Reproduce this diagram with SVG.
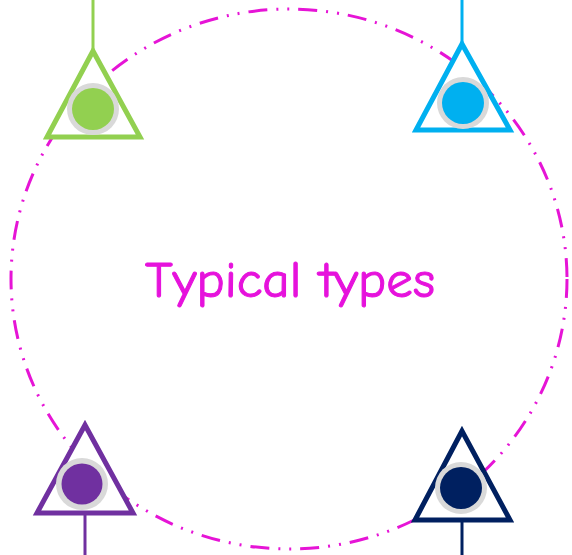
<svg xmlns="http://www.w3.org/2000/svg" width="572" height="555" viewBox="0 0 572 555">
<style>
.ring{fill:none;stroke:#E614D6;stroke-width:3;stroke-dasharray:19 9 2 9 2 9}
.tri{fill:#FFFFFF;stroke-width:5;stroke-linejoin:miter}
.halo{fill:#D9D9D9}
.lnk{stroke-width:3;fill:none}
.title{font-family:"Comic Sans MS","Comic Neue","Open Sans","Liberation Sans",sans-serif;font-size:50px;fill:#E612DC;stroke:#E612DC;stroke-width:1}
</style>
<rect width="572" height="555" fill="#FFFFFF"/>
<g id="ring">
<ellipse class="ring" cx="289" cy="279" rx="278" ry="270"/>
</g>
<g id="connectors">
<line class="lnk" x1="93" y1="0" x2="93" y2="50" stroke="#92D050"/>
<line class="lnk" x1="462" y1="0" x2="462" y2="42" stroke="#00B0F0"/>
<line class="lnk" x1="85" y1="514" x2="85" y2="555" stroke="#7030A0"/>
<line class="lnk" x1="462" y1="520" x2="462" y2="555" stroke="#002060"/>
</g>
<g id="green">
<path class="tri" stroke="#92D050" d="M93,51 L47,137 L140,137 Z"/>
<circle class="halo" cx="93" cy="109" r="26"/>
<circle cx="93" cy="109" r="21" fill="#92D050"/>
</g>
<g id="blue">
<path class="tri" stroke="#00B0F0" d="M462,44 L416,130 L510,130 Z"/>
<circle class="halo" cx="463" cy="103" r="26"/>
<circle cx="463" cy="103" r="21" fill="#00B0F0"/>
</g>
<g id="purple">
<path class="tri" stroke="#7030A0" d="M85,425 L37,513 L133,513 Z"/>
<circle class="halo" cx="82" cy="484" r="26"/>
<circle cx="82" cy="484" r="20.5" fill="#7030A0"/>
</g>
<g id="navy">
<path class="tri" stroke="#002060" d="M462,431 L415,520 L510,520 Z"/>
<circle class="halo" cx="461" cy="488" r="26"/>
<circle cx="461" cy="488" r="21" fill="#002060"/>
</g>
<g id="label">
<text class="title" x="290" y="297" text-anchor="middle" textLength="290" lengthAdjust="spacingAndGlyphs">Typical types</text>
</g>
</svg>
